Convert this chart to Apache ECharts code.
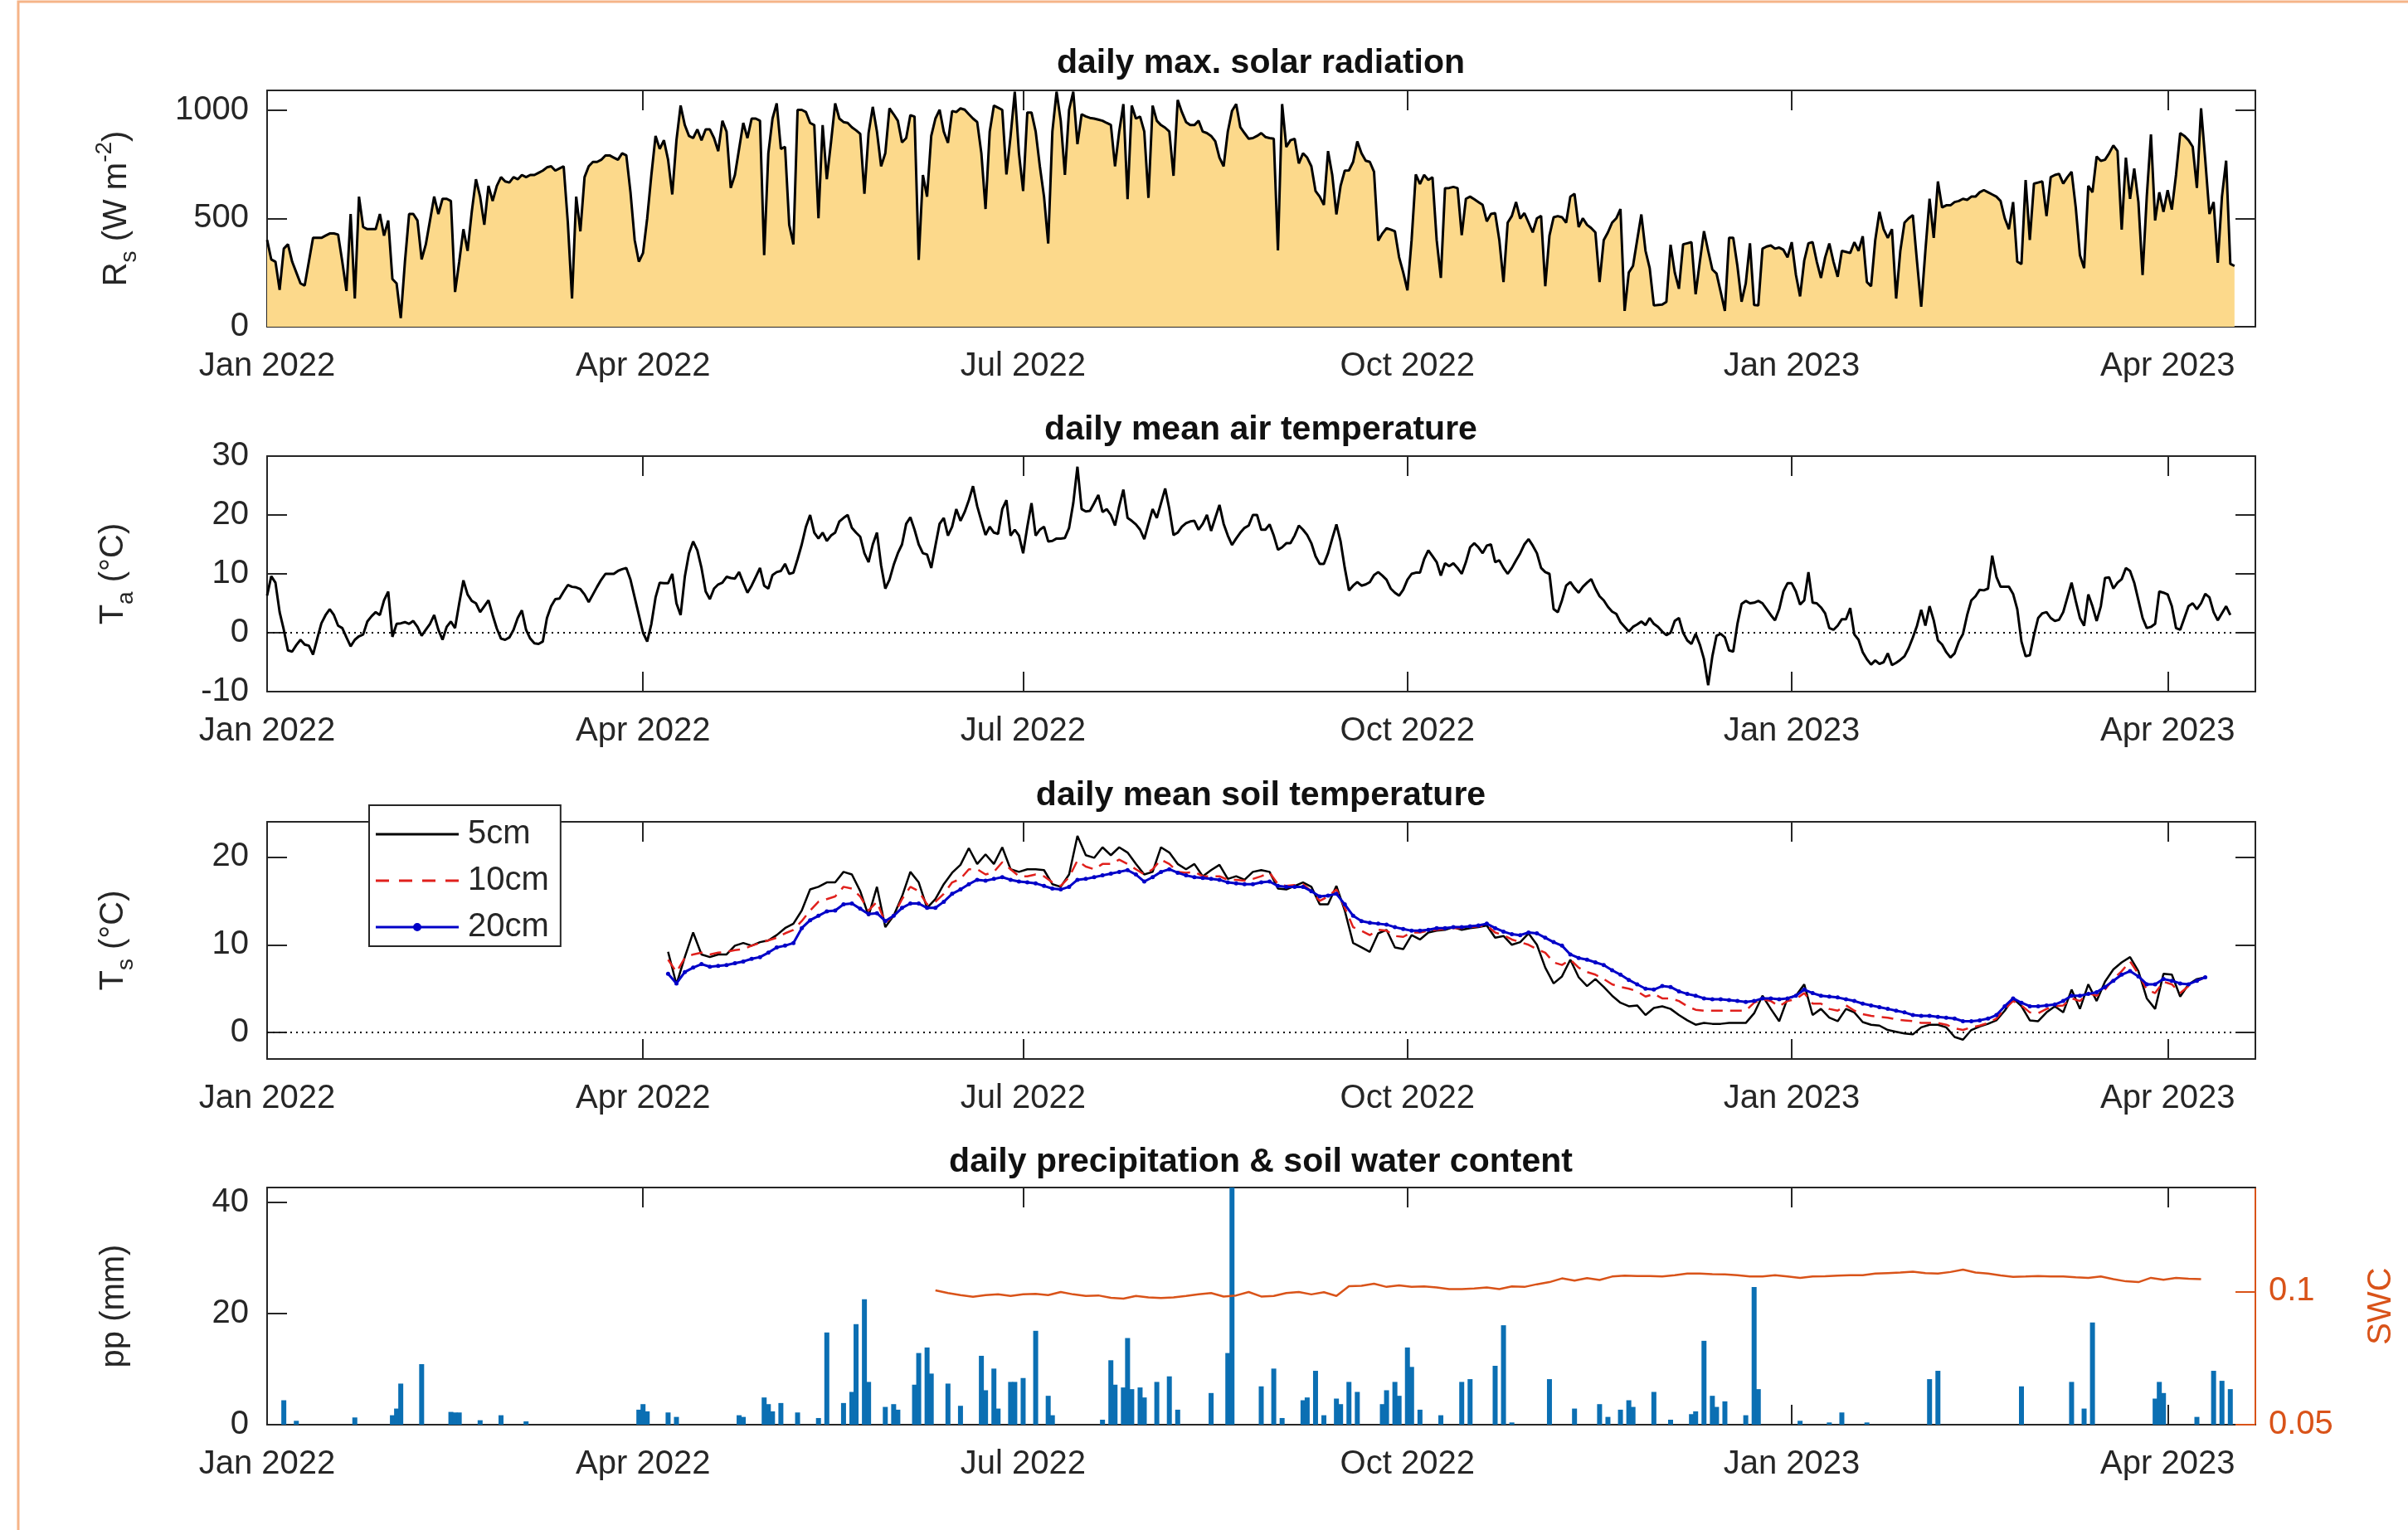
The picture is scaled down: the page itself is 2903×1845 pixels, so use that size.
<!DOCTYPE html>
<html lang="en">
<head>
<meta charset="UTF-8">
<title>Daily weather and soil record</title>
<style>
  html, body { margin: 0; padding: 0; background: #fff; }
  #main { width: 2903px; height: 1845px; }
</style>
</head>
<body>
<div id="main"></div>
<script src="https://cdn.jsdelivr.net/npm/echarts@6/dist/echarts.min.js"></script>
<script>
// x values are days counted from 1 Jan 2022
var tickDays = [0, 90, 181, 273, 365, 455];
var tickLabels = ['Jan 2022', 'Apr 2022', 'Jul 2022', 'Oct 2022', 'Jan 2023', 'Apr 2023'];

// daily max. solar radiation (W m-2), one value per day from day 0
var solarStart = 0;
var solarMax = [
  400,310,300,170,360,380,300,250,200,190,
  300,410,410,410,420,430,430,425,300,165,
  520,130,600,460,450,450,450,520,420,490,
  220,200,40,300,520,520,490,310,380,490,
  600,520,590,590,580,160,300,450,350,530,
  680,600,470,650,580,650,690,670,665,690,
  680,700,690,700,700,710,720,735,740,720,
  730,740,480,130,600,440,690,740,760,760,
  770,790,790,780,770,800,790,620,400,300,
  340,500,700,880,820,860,770,610,860,1020,
  930,880,870,910,860,910,910,870,810,950,
  900,640,700,820,940,870,960,960,950,330,
  800,960,1030,820,830,470,380,1000,1000,990,
  940,930,500,930,680,850,1030,960,944,940,
  920,906,890,613,893,1014,900,740,800,1007,
  980,950,850,870,976,969,308,700,600,880,
  960,1001,900,848,995,990,1007,1001,980,960,
  944,800,543,900,1020,1010,1000,702,880,1084,
  800,626,988,988,900,740,600,384,900,1084,
  950,700,1000,1084,842,980,970,963,960,955,
  950,940,931,740,900,1027,588,1020,960,969,
  900,594,1020,950,930,918,900,696,1046,990,
  944,930,930,950,900,893,880,855,780,740,
  900,995,1027,920,893,867,870,880,893,875,
  870,867,352,1027,829,860,867,753,800,780,
  740,626,600,562,810,700,518,650,720,721,
  760,855,800,766,760,715,397,430,454,448,
  440,321,250,168,400,702,658,700,677,689,
  400,225,639,640,645,639,422,590,600,588,
  575,562,486,520,524,400,206,480,511,575,
  499,524,480,435,500,511,187,420,505,510,
  505,480,600,613,460,500,470,455,435,206,
  400,435,480,500,543,73,250,280,400,518,
  350,270,98,100,102,115,378,250,175,380,
  385,390,150,300,441,350,264,245,160,73,
  410,410,280,115,200,385,100,98,360,370,
  375,360,365,355,320,390,240,140,305,385,
  390,300,225,320,384,300,230,350,345,340,
  390,350,417,206,187,400,530,450,410,450,
  130,350,480,500,515,300,92,350,590,410,
  670,550,560,560,575,580,590,585,600,600,
  620,630,620,610,600,580,500,450,575,300,
  289,677,400,660,665,670,510,690,700,705,
  660,690,715,550,330,270,650,620,785,765,
  770,800,836,810,448,780,590,730,575,238,
  600,887,490,620,530,630,540,700,893,880,
  860,830,640,1007,770,520,575,295,600,766,
  290,280
];

// daily mean air temperature (deg C), one value per day from day 0
var airStart = 0;
var airTemp = [
  6.3,9.6,8.5,3.5,0.5,-3,-3.2,-2.1,-1.2,-2,
  -2.2,-3.7,-1,1.6,3,4,3,1.2,0.8,-0.8,
  -2.3,-1.2,-0.6,-0.3,1.9,2.8,3.5,3,5.5,7,
  -0.7,1.5,1.6,1.8,1.5,2,1,-0.5,0.5,1.5,
  3,0.5,-1.2,1,1.9,0.8,5,8.9,6.5,5.4,
  5,3.5,4.5,5.5,3,0.7,-1,-1.2,-0.8,0.5,
  2.5,3.8,0.5,-1,-1.8,-1.9,-1.5,2.5,4.5,5.7,
  5.8,7,8.1,7.8,7.7,7.4,6.5,5.2,6.5,7.8,
  9,10,10,10,10.5,10.8,11,9,6,3,
  0,-1.5,1.5,6,8.5,8.4,8.4,10,5,3,
  9.5,13.5,15.5,14,11,7,5.7,7.5,8.2,8.5,
  9.5,9.3,9.2,10.3,8.5,6.8,8,9.5,11,8,
  7.5,9.8,10.3,10.5,11.7,10,10.2,12.5,15,18,
  20,17,16,17,15.6,16.5,17,18.9,19.5,20,
  17.8,17,16.3,13.5,12,15,17,11.4,7.5,9,
  11.5,13.5,15,18.5,19.6,17.5,15,13.5,13.3,11,
  14.8,18.5,19.5,16.5,18,21,19,20.5,22.5,24.9,
  21.5,19,16.6,18,17,16.8,21,22.5,16.5,17.5,
  16.5,13.5,18,22,16.5,17.5,18,15.5,15.6,16,
  16,16.1,17.8,22,28.2,21,20.6,20.7,22,23.4,
  20.5,21,20,18.2,21.5,24.3,19.5,19,18.4,17.5,
  15.9,18.5,21,19.5,22,24.5,21,16.6,17,18,
  18.6,18.9,19,17.5,18.5,20,17.3,19.5,21.7,18.5,
  16.5,14.9,16,17,17.8,18.2,20,20,17.5,17.5,
  18.4,16.5,14.1,14.5,15.2,15.2,16.5,18.2,17.5,16.6,
  15.2,13,11.7,11.7,13.5,16,18.4,15.5,11,7.2,
  8,8.6,8,8.2,8.6,9.8,10.3,9.7,9,7.5,
  6.8,6.3,7.3,9,10,10.2,10.2,12.5,14,13,
  12,9.7,11.8,11.3,11.8,11,10,12,14.5,15.2,
  14.5,13.5,14.8,15,12,12.3,11,10,11,12.3,
  13.5,15,15.9,14.8,13.5,11,10.3,10,4,3.5,
  5.5,8,8.6,7.6,6.8,7.8,8.5,9.1,7.5,6.2,
  5.5,4.4,3.6,3.2,1.8,1,0.2,1,1.4,1.9,
  1.3,2.5,1.5,1,0.2,-0.4,0,2,2.5,0,
  -1.3,-1.9,-0.2,-2,-4.5,-8.9,-4,-0.5,-0.2,-0.8,
  -3,-3.2,1.5,4.9,5.4,5,5.1,5.4,5,4,
  3,2.1,4,7,8.4,8.4,7,4.8,5.5,10.3,
  5.1,5,4.3,3.3,0.8,0.5,1.2,2.3,2.3,4.2,
  -0.3,-1.2,-3.3,-4.5,-5.4,-4.7,-5.3,-5,-3.5,-5.5,
  -5.1,-4.6,-4,-2.6,-0.8,1.2,3.9,1.2,4.5,2.1,
  -1.3,-2,-3.3,-4.2,-3.5,-1.5,-0.2,3,5.5,6.2,
  7.3,7.2,7.5,13.1,9.5,7.8,7.8,7.8,6.6,4,
  -1.5,-4,-3.8,-0.4,2.5,3.3,3.5,2.5,2,2.2,
  3.5,6,8.5,5.4,2.5,1.2,6.5,4.5,2,4.5,
  9.3,9.4,7.5,8.5,9.1,11,10.5,8.5,5.5,2.5,
  0.8,1,1.5,7,6.8,6.5,4.5,0.8,0.5,2.5,
  4.5,5,4,5,6.6,6,3.5,2.1,3.3,4.5,
  3
];

// daily mean soil temperature (deg C), read every second day from day 96
var soilStart = 96;
var soilStep = 2;
var soil5cm = [
  9.2,5.5,8.6,11.4,8.9,8.6,8.9,8.9,9.9,10.2,
  9.9,10.3,10.5,11.1,11.9,12.4,13.9,16.3,16.6,17.1,
  17.1,18.3,18,16.1,13.3,16.6,12,13.3,15.5,18.3,
  17.1,14.2,15.2,16.9,18.2,19.1,21,19.2,20.3,19.2,
  21.1,18.6,18.3,18.6,18.6,18.5,16.9,16.6,18,22.4,
  20.2,19.9,21.1,20.2,21.1,20.5,19.2,18,18.3,21.1,
  20.5,19.2,18.6,19.2,17.8,18.5,19.1,17.5,17.8,17.4,
  18.3,18.5,18.3,16.4,16.3,16.7,17.1,16.6,14.6,14.6,
  16.7,13.9,10.2,9.7,9.2,11.3,11.7,9.7,9.5,11.1,
  10.6,11.4,11.6,11.7,12,11.7,11.9,12,12.2,10.8,
  11,10,10.3,11.3,10,7.4,5.6,6.4,8.3,6.3,
  5.3,6.1,5.2,4.2,3.4,3,3.1,2,2.8,3,
  2.7,2,1.4,0.9,1.1,1,1,1.1,1.1,1.1,
  2.2,4.2,2.7,1.3,3.9,4.2,5.5,2,2.7,1.7,
  1.3,2.7,2.3,1.2,0.9,0.8,0.3,0.1,-0.1,-0.2,
  0.6,0.9,0.9,0.6,-0.5,-0.8,0.3,0.7,1,1.4,
  2.5,3.9,3,1.4,1.3,2.3,3,2.3,4.9,2.7,
  5.5,3.6,5.8,7.2,8,8.6,7,3.9,2.7,6.7,
  6.6,4.1,5.5,6.1,6.3
];
var soil10cm = [
  8.3,6.9,8.5,8.9,9.1,8.9,9.1,9.2,9.4,9.5,
  9.9,10.2,10.5,10.8,11.3,11.7,12.7,13.9,14.9,15.2,
  15.5,16.6,16.4,15.5,13.9,14.9,12.5,13.3,15.2,16.6,
  16.1,14.6,14.9,15.8,17.1,17.5,18.6,18.6,18,18.3,
  19.4,18.6,17.8,17.8,18,17.8,17.1,16.7,17.7,19.6,
  18.9,18.6,19.2,19.2,19.7,19.2,18.6,18,18.6,19.7,
  19.2,18.3,18.2,18.3,17.8,17.8,17.8,17.4,17.4,17.3,
  17.5,17.8,18.2,16.9,16.7,16.8,16.9,16.1,15,15.5,
  16.3,14.2,12,11.6,11.1,11.7,11.6,11,10.9,11.4,
  11.4,11.6,11.7,11.8,11.9,11.9,12,12.1,12.2,11.4,
  11.1,10.6,10.3,10,9.5,9.1,8,7.7,8.3,7.4,
  6.9,6.6,6.1,5.5,5.2,5,4.7,4.1,4.4,3.9,
  3.9,3.6,3,2.6,2.5,2.5,2.5,2.5,2.5,2.5,
  3.4,3.8,3.6,3,3.6,3.8,4.5,3.3,3.3,2.7,
  2.5,3.1,2.5,2.1,1.9,1.8,1.7,1.5,1.4,1.3,
  1.1,1.1,1.1,0.9,0.5,0.3,0.6,0.8,1.1,1.6,
  2.7,3.6,3.1,2.3,2.2,2.7,3,3.1,3.9,3.6,
  4.5,4.2,4.9,6.1,7,8.1,6.7,4.9,4.5,5.8,
  5.5,4.5,5.3,5.9,6.3
];
var soil20cm = [
  6.7,5.6,6.9,7.4,7.8,7.5,7.6,7.7,7.9,8.1,
  8.4,8.6,9.1,9.7,9.9,10.2,11.9,12.8,13.3,13.8,
  13.9,14.6,14.7,14.1,13.5,13.6,12.7,13.3,14.2,14.7,
  14.7,14.2,14.2,14.9,15.8,16.3,16.9,17.4,17.3,17.5,
  17.7,17.4,17.2,17.1,17,16.7,16.4,16.3,16.6,17.4,
  17.5,17.7,17.9,18.1,18.3,18.5,18,17.2,17.7,18.3,
  18.6,18.2,17.9,17.7,17.6,17.5,17.4,17.1,17,16.9,
  16.9,17.1,17.2,16.7,16.6,16.6,16.6,16.1,15.5,15.6,
  15.8,14.6,13.3,12.7,12.5,12.4,12.3,12,11.8,11.6,
  11.6,11.7,11.9,11.9,12,12,12.1,12.2,12.4,11.9,
  11.5,11.2,11.1,11.4,11.3,10.8,10.3,9.9,8.9,8.5,
  8.3,8,7.7,7.1,6.6,6,5.5,5,4.9,5.3,
  5.2,4.7,4.4,4.2,3.9,3.8,3.8,3.7,3.6,3.5,
  3.6,3.9,3.9,3.8,3.9,4.2,4.9,4.5,4.2,4.1,
  4,3.8,3.6,3.3,3.1,2.9,2.7,2.5,2.3,2,
  1.9,1.9,1.8,1.7,1.6,1.3,1.3,1.4,1.6,2,
  3,3.9,3.4,3,3,3.1,3.2,3.6,4.2,4.2,
  4.4,4.6,5.2,5.9,6.6,7,6.4,5.5,5.5,6.1,
  5.9,5.6,5.5,5.9,6.3
];

// daily precipitation (mm): days with rain and their totals
var ppDays = [
  4,7,21,30,31,32,37,44,45,46,51,56,62,89,90,91,96,98,113,114,
  119,120,121,123,127,132,134,138,140,141,143,144,148,150,151,155,156,158,159,163,
  166,171,172,174,175,178,179,181,184,187,188,200,202,203,205,206,207,209,210,213,
  216,218,226,230,231,238,241,243,248,249,251,253,256,257,259,261,267,268,270,271,
  273,274,276,281,286,288,294,296,298,307,313,319,321,324,326,327,332,336,341,342,
  344,346,347,349,354,356,357,367,374,377,383,398,400,420,432,435,437,452,453,454,
  462,466,468,470
];
var ppValues = [
  4.4,0.7,1.3,1.7,2.9,7.4,10.9,2.3,2.2,2.2,0.8,1.7,0.6,2.7,3.7,2.4,2.2,1.4,1.7,1.4,
  4.9,3.7,2.4,3.9,2.2,1.2,16.6,3.9,5.9,18.1,22.6,7.7,3.2,3.7,2.7,7.2,12.9,13.9,9.2,7.4,
  3.4,12.4,6.2,10.1,2.9,7.7,7.7,8.4,16.9,5.2,1.7,0.9,11.6,7.2,6.7,15.6,6.4,6.7,4.9,7.7,
  8.7,2.7,5.7,12.9,42.7,6.9,10.1,1.2,4.4,4.9,9.7,1.7,4.7,3.7,7.7,5.9,3.7,6.2,7.7,5.2,
  13.9,10.4,2.7,1.7,7.7,8.2,10.6,17.9,0.4,8.2,2.9,3.7,1.4,2.7,4.4,3.2,5.9,0.9,1.9,2.4,
  15.1,5.2,3.2,4.2,1.7,24.8,6.4,0.7,0.4,2.2,0.4,8.2,9.7,6.9,7.7,2.9,18.4,4.7,7.7,5.7,
  1.4,9.7,7.9,6.4
];

// soil water content, read every third day from day 160
var swcStart = 160;
var swcStep = 3;
var swc = [
  0.1004,0.0994,0.0986,0.0980,0.0986,0.0989,0.0983,0.0989,0.0991,0.0986,
  0.0998,0.0989,0.0983,0.0985,0.0976,0.0973,0.0983,0.0978,0.0975,0.0978,
  0.0983,0.0989,0.0994,0.0981,0.0985,0.0998,0.0981,0.0983,0.0994,0.0998,
  0.0989,0.0997,0.0983,0.1020,0.1021,0.1029,0.1017,0.1023,0.1017,0.1019,
  0.1015,0.1009,0.1009,0.1011,0.1015,0.1009,0.1019,0.1017,0.1027,0.1035,
  0.1049,0.1041,0.1050,0.1043,0.1056,0.1059,0.1058,0.1058,0.1056,0.1061,
  0.1067,0.1067,0.1065,0.1064,0.1061,0.1056,0.1056,0.1061,0.1056,0.1051,
  0.1056,0.1057,0.1059,0.1061,0.1061,0.1067,0.1069,0.1071,0.1074,0.1069,
  0.1067,0.1073,0.1082,0.1071,0.1067,0.1060,0.1055,0.1056,0.1058,0.1056,
  0.1056,0.1053,0.1051,0.1056,0.1046,0.1038,0.1035,0.1051,0.1044,0.1051,
  0.1048,0.1046
];

function series(start, step, values) {
  return values.map(function (v, i) { return [start + i * step, v]; });
}

var AX = '#262626';
var FONT = 'Liberation Sans';
var ORANGE = '#d95319';
var XMAX = 476;
var TICKFONT = 40;

var grids = [
  { left: 322, right: 184, top: 109, height: 285 },
  { left: 322, right: 184, top: 550, height: 284 },
  { left: 322, right: 184, top: 991, height: 286 },
  { left: 322, right: 184, top: 1432, height: 286 }
];

function xAxisFor(i, pos) {
  return {
    type: 'value', gridIndex: i, position: pos, min: 0, max: XMAX,
    axisLine: { show: true, onZero: false, lineStyle: { color: AX, width: 2 } },
    axisTick: { show: true, inside: true, length: 24, customValues: tickDays, lineStyle: { color: AX, width: 2 } },
    axisLabel: {
      show: pos === 'bottom', customValues: tickDays, margin: 28,
      color: AX, fontSize: TICKFONT, fontFamily: FONT,
      formatter: function (v) { return tickLabels[tickDays.indexOf(v)]; }
    },
    splitLine: { show: false }
  };
}

var rich = {
  m: { fontSize: TICKFONT, fontFamily: FONT, color: AX, lineHeight: 58, verticalAlign: 'middle' },
  s: { fontSize: 28, fontFamily: FONT, color: AX, lineHeight: 58, verticalAlign: 'bottom' },
  p: { fontSize: 28, fontFamily: FONT, color: AX, lineHeight: 58, verticalAlign: 'top' }
};

function yAxisFor(i, pos, min, max, ticks, name, color, showLabel, gap) {
  return {
    type: 'value', gridIndex: i, position: pos, min: min, max: max,
    name: name, nameLocation: 'middle', nameGap: gap,
    nameRotate: 90,
    nameTextStyle: { fontSize: TICKFONT, fontFamily: FONT, color: color, rich: rich },
    axisLine: { show: true, onZero: false, lineStyle: { color: color, width: 2 } },
    axisTick: { show: true, inside: true, length: 24, customValues: ticks, lineStyle: { color: color, width: 2 } },
    axisLabel: {
      show: showLabel, customValues: ticks, margin: pos === 'left' ? 22 : 16,
      color: color, fontSize: TICKFONT, fontFamily: FONT,
      formatter: function (v) { return String(v); }
    },
    splitLine: { show: false }
  };
}

var xAxes = [];
grids.forEach(function (g, i) {
  xAxes.push(xAxisFor(i, 'bottom'));
  xAxes.push(xAxisFor(i, 'top'));
});

var yAxes = [
  yAxisFor(0, 'left', 0, 1090, [0, 500, 1000], '{m|R}{s|s}{m| (W m}{p|-2}{m|)}', AX, true, 152),
  yAxisFor(0, 'right', 0, 1090, [0, 500, 1000], '', AX, false, 0),
  yAxisFor(1, 'left', -10, 30, [-10, 0, 10, 20, 30], '{m|T}{s|a}{m| (°C)}', AX, true, 156),
  yAxisFor(1, 'right', -10, 30, [-10, 0, 10, 20, 30], '', AX, false, 0),
  yAxisFor(2, 'left', -3, 24, [0, 10, 20], '{m|T}{s|s}{m| (°C)}', AX, true, 156),
  yAxisFor(2, 'right', -3, 24, [0, 10, 20], '', AX, false, 0),
  yAxisFor(3, 'left', 0, 42.7, [0, 20, 40], 'pp (mm)', AX, true, 164),
  yAxisFor(3, 'right', 0.05, 0.139, [0.05, 0.1], 'SWC', ORANGE, true, 132)
];

function zeroLine(lastDay) {
  return {
    silent: true, symbol: 'none', label: { show: false },
    lineStyle: { color: '#000', type: [2, 5], width: 2 },
    data: [[{ coord: [0, 0] }, { coord: [lastDay, 0] }]]
  };
}

// legend keys drawn as MATLAB-like line samples
var iconSolid = 'path://M0,0h100v3h-100z';
var iconDashed = 'path://M0,0h16v3h-16z M28,0h16v3h-16z M56,0h16v3h-16z M84,0h16v3h-16z';
var iconDotLine = 'path://M0,3.5h100v3h-100z M45,5a5,5 0 1,1 10,0a5,5 0 1,1 -10,0z';

var option = {
  animation: false,
  backgroundColor: '#fff',
  grid: grids,
  xAxis: xAxes,
  yAxis: yAxes,
  legend: {
    orient: 'vertical', left: 445, top: 971,
    data: [
      { name: '5cm', icon: iconSolid },
      { name: '10cm', icon: iconDashed },
      { name: '20cm', icon: iconDotLine }
    ],
    itemWidth: 100, itemHeight: 10, itemGap: 14,
    padding: [14, 14, 2, 8],
    backgroundColor: '#fff', borderColor: AX, borderWidth: 2, borderRadius: 0,
    textStyle: { fontSize: TICKFONT, color: AX, fontFamily: FONT, lineHeight: 42, padding: [0, 0, 0, 6] }
  },
  graphic: [
    { type: 'rect', silent: true, z: -10, shape: { x: 22, y: 2, width: 2900, height: 1860 },
      style: { fill: 'none', stroke: '#f5b488', lineWidth: 3 } },
    { type: 'text', x: 1520, y: 77, style: { text: 'daily max. solar radiation', align: 'center', verticalAlign: 'middle', fontSize: 41, fontWeight: 'bold', fontFamily: FONT, fill: '#111' } },
    { type: 'text', x: 1520, y: 519, style: { text: 'daily mean air temperature', align: 'center', verticalAlign: 'middle', fontSize: 41, fontWeight: 'bold', fontFamily: FONT, fill: '#111' } },
    { type: 'text', x: 1520, y: 960, style: { text: 'daily mean soil temperature', align: 'center', verticalAlign: 'middle', fontSize: 41, fontWeight: 'bold', fontFamily: FONT, fill: '#111' } },
    { type: 'text', x: 1520, y: 1402, style: { text: 'daily precipitation & soil water content', align: 'center', verticalAlign: 'middle', fontSize: 41, fontWeight: 'bold', fontFamily: FONT, fill: '#111' } }
  ],
  series: [
    {
      name: 'Rs', type: 'line', xAxisIndex: 0, yAxisIndex: 0,
      data: series(solarStart, 1, solarMax),
      symbol: 'none', lineStyle: { color: '#000', width: 3 },
      areaStyle: { color: '#fcd98b', opacity: 1 }
    },
    {
      name: 'Ta', type: 'line', xAxisIndex: 2, yAxisIndex: 2,
      data: series(airStart, 1, airTemp),
      symbol: 'none', lineStyle: { color: '#000', width: 3 },
      markLine: zeroLine(471)
    },
    {
      name: '5cm', type: 'line', xAxisIndex: 4, yAxisIndex: 4,
      data: series(soilStart, soilStep, soil5cm),
      symbol: 'none', itemStyle: { color: '#000' }, lineStyle: { color: '#000', width: 2.5 },
      markLine: zeroLine(471)
    },
    {
      name: '10cm', type: 'line', xAxisIndex: 4, yAxisIndex: 4,
      data: series(soilStart, soilStep, soil10cm),
      symbol: 'none', itemStyle: { color: '#e0201c' }, lineStyle: { color: '#e0201c', width: 2.5, type: [14, 9] }
    },
    {
      name: '20cm', type: 'line', xAxisIndex: 4, yAxisIndex: 4,
      data: series(soilStart, soilStep, soil20cm),
      symbol: 'circle', symbolSize: 5, showSymbol: true, showAllSymbol: true,
      itemStyle: { color: '#0000c8' }, lineStyle: { color: '#0000c8', width: 3 }
    },
    {
      name: 'pp', type: 'bar', xAxisIndex: 6, yAxisIndex: 6,
      data: ppDays.map(function (d, i) { return [d, ppValues[i]]; }),
      barWidth: 6, itemStyle: { color: '#0b6fb3' }
    },
    {
      name: 'SWC', type: 'line', xAxisIndex: 6, yAxisIndex: 7,
      data: series(swcStart, swcStep, swc),
      symbol: 'none', lineStyle: { color: ORANGE, width: 2.5 }
    }
  ]
};

var chart = echarts.init(document.getElementById('main'), null, { renderer: 'canvas' });
chart.setOption(option);
</script>
</body>
</html>
